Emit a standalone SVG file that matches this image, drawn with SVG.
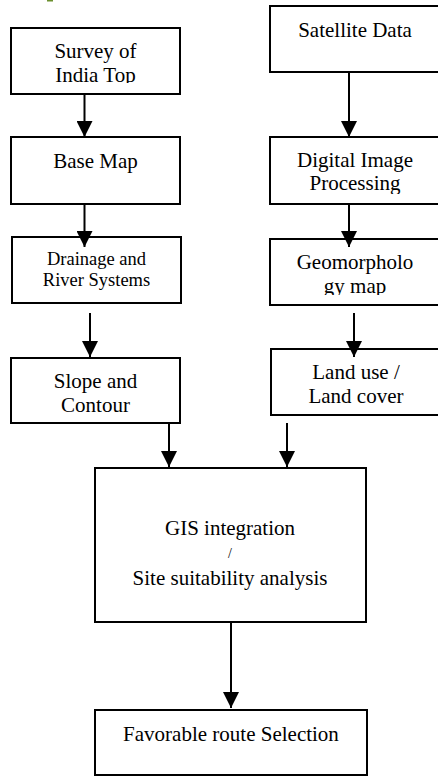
<svg xmlns="http://www.w3.org/2000/svg" width="438" height="776" viewBox="0 0 438 776">
<style>
.box{fill:#fff;stroke:#000;stroke-width:2}
.t{font-family:"Liberation Serif","Times New Roman",serif;font-size:21px;fill:#000;text-anchor:middle}
.s{font-size:18.5px}
.c{stroke:#000;stroke-width:2;fill:none;marker-end:url(#ah)}
</style>
<defs>
<marker id="ah" markerUnits="userSpaceOnUse" markerWidth="16" markerHeight="16" refX="16" refY="8" orient="auto">
<path d="M0,0 L16,8 L0,16 z" fill="#000"/>
</marker>
<clipPath id="c1"><rect x="11" y="28" width="170" height="55"/></clipPath>
<clipPath id="c2"><rect x="270" y="137" width="170" height="57"/></clipPath>
<clipPath id="c3"><rect x="270" y="239" width="170" height="56"/></clipPath>
</defs>
<rect x="47" y="0" width="6" height="1.5" fill="#6b8f2e"/>
<g id="survey"><rect class="box" x="11" y="28" width="169" height="66"/><g clip-path="url(#c1)"><text class="t" x="95.5" y="58">Survey of</text><text class="t" x="95.5" y="82">India Top</text></g></g>
<g id="basemap"><rect class="box" x="11" y="137" width="169" height="67"/><text class="t" x="95.5" y="168">Base Map</text></g>
<g id="drainage"><rect class="box" x="12" y="237" width="169" height="66"/><text class="t s" x="96.5" y="265">Drainage and</text><text class="t s" x="96.5" y="286">River Systems</text></g>
<g id="slope"><rect class="box" x="11" y="358" width="169" height="65"/><text class="t" x="95.5" y="388">Slope and</text><text class="t" x="95.5" y="412">Contour</text></g>
<g id="satellite"><rect class="box" x="270" y="6" width="172" height="66"/><text class="t" x="355" y="37">Satellite Data</text></g>
<g id="digital"><rect class="box" x="270" y="137" width="172" height="67"/><g clip-path="url(#c2)"><text class="t" x="355" y="167">Digital Image</text><text class="t" x="355" y="190">Processing</text></g></g>
<g id="geomorph"><rect class="box" x="270" y="239" width="172" height="66"/><g clip-path="url(#c3)"><text class="t" x="355" y="269">Geomorpholo</text><text class="t" x="355" y="293">gy map</text></g></g>
<g id="landuse"><rect class="box" x="271" y="349" width="171" height="66"/><text class="t" x="356" y="379">Land use /</text><text class="t" x="356" y="403">Land cover</text></g>
<g id="gis"><rect class="box" x="95" y="468" width="271" height="154"/><text class="t" x="230" y="535">GIS integration</text><text class="t" x="230" y="558" style="font-size:14px">/</text><text class="t" x="230" y="585">Site suitability analysis</text></g>
<g id="favorable"><rect class="box" x="95" y="710" width="272" height="65"/><text class="t" x="231" y="741">Favorable route Selection</text></g>
<g id="connectors">
<line class="c" x1="84.5" y1="94" x2="84.5" y2="137"/>
<line class="c" x1="84.5" y1="204" x2="84.5" y2="247"/>
<line class="c" x1="90" y1="313" x2="90" y2="357"/>
<line class="c" x1="169" y1="423" x2="169" y2="467"/>
<line class="c" x1="349" y1="72" x2="349" y2="137"/>
<line class="c" x1="349" y1="204" x2="349" y2="247"/>
<line class="c" x1="354" y1="313" x2="354" y2="357"/>
<line class="c" x1="287" y1="423" x2="287" y2="467"/>
<line class="c" x1="231" y1="622" x2="231" y2="708"/>
</g>
</svg>
